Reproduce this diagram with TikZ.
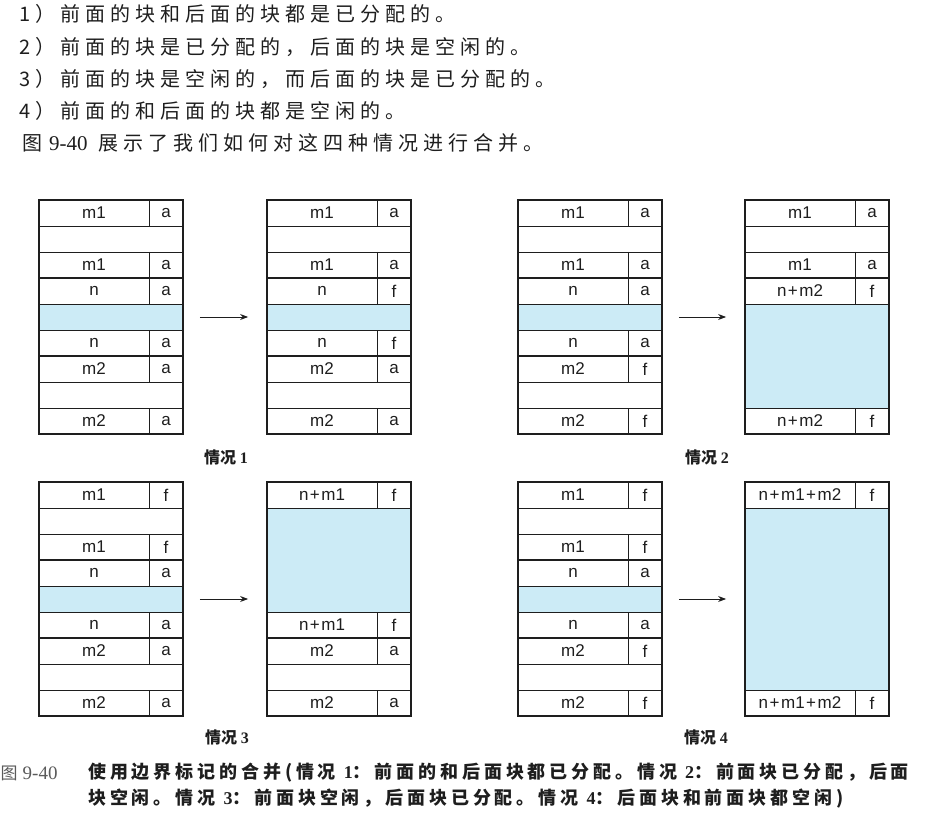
\documentclass[tikz,border=0pt]{standalone}
\usepackage{fontspec}
\setmainfont{Liberation Sans}
\newfontfamily\cjk[LetterSpace=25]{Noto Sans CJK SC}
\newfontfamily\cjkcap{Noto Sans CJK SC}
\newfontfamily\cjkcapsp[LetterSpace=21.5]{Noto Sans CJK SC}
\newfontfamily\serifnum{Liberation Serif}
\usetikzlibrary{arrows.meta}
\definecolor{memblue}{RGB}{204,235,246}
\definecolor{ink}{RGB}{30,30,30}
\definecolor{graytxt}{RGB}{90,90,90}
\tikzset{
  thinln/.style={draw=ink,line width=0.9pt},
  thickln/.style={draw=ink,line width=1.8pt},
  lbl/.style={font=\fontsize{17}{17}\selectfont,text=ink,inner sep=0pt},
  frame/.style={draw=ink,line width=1.8pt,minimum width=144pt,minimum height=234pt,inner sep=0pt,fill=none},
  arr/.style={draw=ink,line width=0.9pt,-{Stealth[length=8pt,width=6pt]},shorten <=16pt,shorten >=18pt},
  toptxt/.style={anchor=west,inner sep=0pt,text=ink,font=\cjk\fontsize{20}{20}\selectfont},
  captxt/.style={inner sep=0pt,text=ink,font=\cjkcap\bfseries\fontsize{16}{16}\selectfont},
  figtxt/.style={anchor=west,inner sep=0pt,text=ink,font=\cjkcapsp\bfseries\fontsize{18}{18}\selectfont}
}
\newcommand\pl{\kern1.5pt+\kern1.5pt}
\newcommand\mline[3]{\draw[thinln] (#1,#2+#3*26) -- ++(144,0);}
\newcommand\mthick[3]{\draw[thickln] (#1,#2+#3*26) -- ++(144,0);}
\newcommand\mtag[6]{%
  \draw[thinln] (#2+110,#3+#4*26) -- ++(0,26);
  \node[lbl] (#1l#4) at (#2+55,#3+#4*26+13) {#5};
  \node[lbl] (#1t#4) at (#2+127,#3+#4*26+13) {#6};}
\newcommand\mblue[4]{\fill[memblue] (#1,#2+#3*26) rectangle (#1+144,#2+#4*26);}
\newcommand\mframe[3]{\node[frame] (#1) at (#2+72,#3+117) {};}
\newcommand\stdbox[6]{%
  \mblue{#2}{#3}{4}{5}
  \mline{#2}{#3}{1}\mline{#2}{#3}{2}\mline{#2}{#3}{4}
  \mline{#2}{#3}{5}\mline{#2}{#3}{7}\mline{#2}{#3}{8}
  \mthick{#2}{#3}{3}\mthick{#2}{#3}{6}
  \mtag{#1}{#2}{#3}{0}{m1}{#4}
  \mtag{#1}{#2}{#3}{2}{m1}{#4}
  \mtag{#1}{#2}{#3}{3}{n}{#5}
  \mtag{#1}{#2}{#3}{5}{n}{#5}
  \mtag{#1}{#2}{#3}{6}{m2}{#6}
  \mtag{#1}{#2}{#3}{8}{m2}{#6}}
\begin{document}
\begin{tikzpicture}[x=1pt,y=-1pt]
\useasboundingbox[fill=white] (0,0) rectangle (935,829);
% top text
\node[toptxt] (t1) at (19,14) {1）前面的块和后面的块都是已分配的。};
\node[toptxt] (t2) at (19,47) {2）前面的块是已分配的，后面的块是空闲的。};
\node[toptxt] (t3) at (19,79) {3）前面的块是空闲的，而后面的块是已分配的。};
\node[toptxt] (t4) at (19,111) {4）前面的和后面的块都是空闲的。};
\node[toptxt] (t5) at (22,143) {图\kern7pt{\serifnum\fontsize{21}{21}\selectfont 9-40}\kern11pt 展示了我们如何对这四种情况进行合并。};
% case 1
\stdbox{la}{39}{200}{a}{a}{a}
\mframe{L1}{39}{200}
\stdbox{ra}{267}{200}{a}{f}{a}
\mframe{R1}{267}{200}
\draw[arr] (L1) -- (R1);
\node[captxt] (c1) at (226,457) {情况 {\serifnum 1}};
% case 2
\stdbox{lb}{518}{200}{a}{a}{f}
\mframe{L2}{518}{200}
\mblue{745}{200}{4}{8}
\mline{745}{200}{1}\mline{745}{200}{2}\mthick{745}{200}{3}
\mline{745}{200}{4}\mline{745}{200}{8}
\mtag{rb}{745}{200}{0}{m1}{a}
\mtag{rb}{745}{200}{2}{m1}{a}
\mtag{rb}{745}{200}{3}{n\pl m2}{f}
\mtag{rb}{745}{200}{8}{n\pl m2}{f}
\mframe{R2}{745}{200}
\draw[arr] (L2) -- (R2);
\node[captxt] (c2) at (707,457) {情况 {\serifnum 2}};
% case 3
\stdbox{lc}{39}{482}{f}{a}{a}
\mframe{L3}{39}{482}
\mblue{267}{482}{1}{5}
\mline{267}{482}{1}\mline{267}{482}{5}\mthick{267}{482}{6}
\mline{267}{482}{7}\mline{267}{482}{8}
\mtag{rc}{267}{482}{0}{n\pl m1}{f}
\mtag{rc}{267}{482}{5}{n\pl m1}{f}
\mtag{rc}{267}{482}{6}{m2}{a}
\mtag{rc}{267}{482}{8}{m2}{a}
\mframe{R3}{267}{482}
\draw[arr] (L3) -- (R3);
\node[captxt] (c3) at (227,737) {情况 {\serifnum 3}};
% case 4
\stdbox{ld}{518}{482}{f}{a}{f}
\mframe{L4}{518}{482}
\mblue{745}{482}{1}{8}
\mline{745}{482}{1}\mline{745}{482}{8}
\mtag{rd}{745}{482}{0}{n\pl m1\pl m2}{f}
\mtag{rd}{745}{482}{8}{n\pl m1\pl m2}{f}
\mframe{R4}{745}{482}
\draw[arr] (L4) -- (R4);
\node[captxt] (c4) at (706,737) {情况 {\serifnum 4}};
% figure caption
\node[anchor=west,inner sep=0pt,text=graytxt] (fig) at (0.5,773) {{\cjkcap\fontsize{17}{17}\selectfont 图}\kern5pt{\serifnum\fontsize{19}{19}\selectfont 9-40}};
\node[figtxt] (f1) at (88,773) {使用边界标记的合并(情况 {\serifnum 1}：前面的和后面块都已分配。情况 {\serifnum 2}：前面块已分配，后面};
\node[figtxt] (f2) at (88,799) {块空闲。情况 {\serifnum 3}：前面块空闲，后面块已分配。情况 {\serifnum 4}：后面块和前面块都空闲)};
\end{tikzpicture}
\end{document}
